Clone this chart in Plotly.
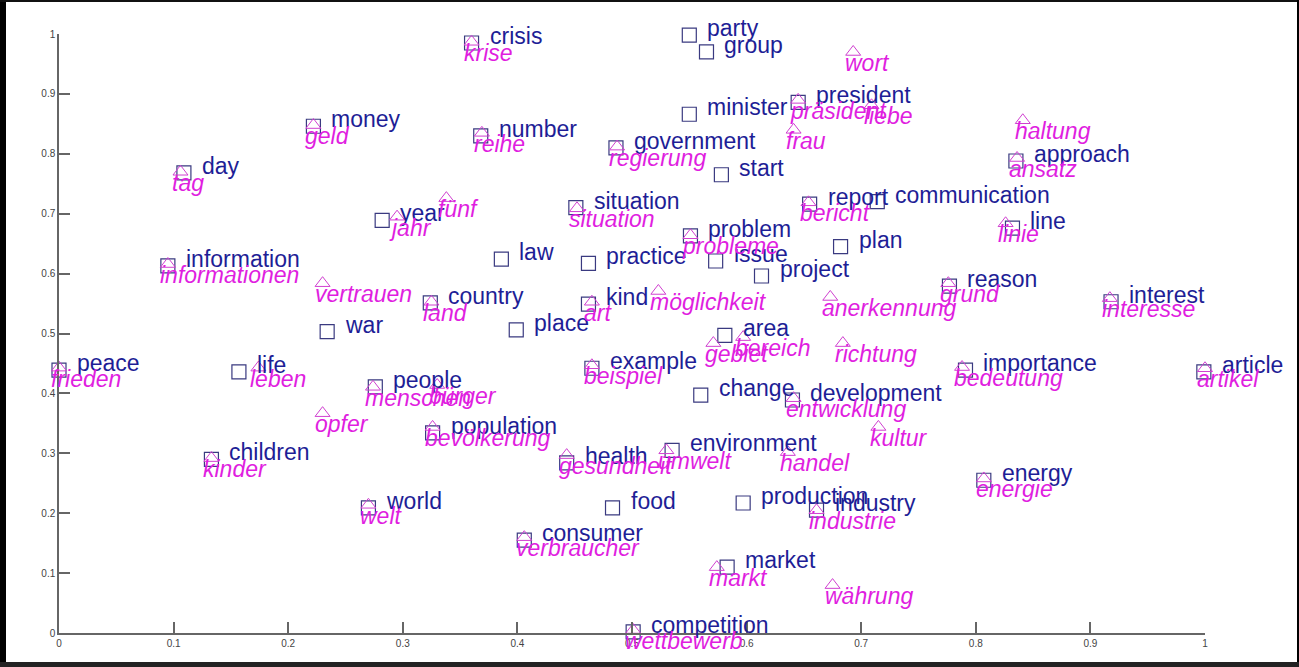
import plotly.graph_objects as go

# English words (blue squares)
en_words = ["peace", "life", "war", "children", "world", "people", "day", "money",
            "information", "year", "country", "law", "place", "crisis", "party", "group",
            "minister", "president", "number", "government", "start", "situation",
            "problem", "issue", "project", "practice", "kind", "plan", "report",
            "communication", "approach", "line", "reason", "interest", "importance",
            "article", "energy", "industry", "production", "area", "example", "change",
            "development", "population", "health", "environment", "food", "consumer",
            "market", "competition"]
en_x = [0.000, 0.157, 0.234, 0.133, 0.270, 0.276, 0.109, 0.222,
        0.095, 0.282, 0.324, 0.386, 0.399, 0.360, 0.550, 0.565,
        0.550, 0.645, 0.368, 0.486, 0.578, 0.451,
        0.551, 0.573, 0.613, 0.462, 0.462, 0.682, 0.655,
        0.714, 0.835, 0.832, 0.777, 0.918, 0.791,
        0.999, 0.807, 0.661, 0.597, 0.581, 0.465, 0.560,
        0.640, 0.326, 0.443, 0.535, 0.483, 0.406,
        0.583, 0.501]
en_y = [0.439, 0.436, 0.503, 0.290, 0.209, 0.411, 0.768, 0.846,
        0.613, 0.689, 0.551, 0.624, 0.506, 0.985, 0.998, 0.970,
        0.866, 0.886, 0.830, 0.810, 0.765, 0.710,
        0.663, 0.621, 0.596, 0.617, 0.549, 0.645, 0.716,
        0.720, 0.788, 0.676, 0.579, 0.553, 0.439,
        0.436, 0.255, 0.205, 0.217, 0.497, 0.442, 0.397,
        0.389, 0.334, 0.284, 0.305, 0.209, 0.155,
        0.110, 0.002]

# German words (magenta triangles)
de_words = ["frieden", "leben", "opfer", "menschen", "bürger", "kinder", "welt",
            "bevölkerung", "tag", "geld", "informationen", "vertrauen", "jahr", "fünf",
            "land", "krise", "reihe", "regierung", "situation", "art", "möglichkeit",
            "probleme", "bericht", "präsident", "frau", "wort", "liebe", "haltung",
            "ansatz", "linie", "grund", "interesse", "anerkennung", "gebiet", "bereich",
            "richtung", "beispiel", "entwicklung", "bedeutung", "artikel", "kultur",
            "energie", "industrie", "handel", "umwelt", "gesundheit", "verbraucher",
            "markt", "währung", "wettbewerb"]
de_x = [0.000, 0.174, 0.230, 0.274, 0.330, 0.133, 0.270,
        0.326, 0.106, 0.222, 0.095, 0.230, 0.295, 0.338,
        0.325, 0.360, 0.369, 0.487, 0.452, 0.465, 0.523,
        0.551, 0.654, 0.645, 0.641, 0.693, 0.709, 0.841,
        0.836, 0.826, 0.776, 0.917, 0.673, 0.571, 0.597,
        0.684, 0.465, 0.641, 0.788, 1.000, 0.715,
        0.807, 0.661, 0.636, 0.530, 0.443, 0.406,
        0.574, 0.675, 0.501]
de_y = [0.443, 0.443, 0.367, 0.411, 0.414, 0.292, 0.214,
        0.344, 0.770, 0.848, 0.616, 0.584, 0.695, 0.726,
        0.553, 0.987, 0.835, 0.812, 0.709, 0.553, 0.571,
        0.664, 0.719, 0.890, 0.840, 0.970, 0.881, 0.856,
        0.793, 0.684, 0.584, 0.559, 0.561, 0.484, 0.494,
        0.484, 0.447, 0.392, 0.444, 0.442, 0.344,
        0.258, 0.205, 0.302, 0.305, 0.297, 0.160,
        0.110, 0.080, 0.005]

tick_vals = [0, 0.1, 0.2, 0.3, 0.4, 0.5, 0.6, 0.7, 0.8, 0.9, 1]
tick_text = ["0", "0.1", "0.2", "0.3", "0.4", "0.5", "0.6", "0.7", "0.8", "0.9", "1"]

EN_COLOR = "#1e1e96"
DE_COLOR = "#e01ee0"
FONT = "Liberation Sans, Arial, sans-serif"

fig = go.Figure()
fig.add_trace(go.Scatter(
    x=en_x, y=en_y, mode="markers", cliponaxis=False, hoverinfo="skip",
    marker=dict(symbol="square-open", size=14, color="#3a3a80",
                line=dict(width=1.2, color="#3a3a80")),
    showlegend=False))
fig.add_trace(go.Scatter(
    x=de_x, y=de_y, mode="markers", cliponaxis=False, hoverinfo="skip",
    marker=dict(symbol="triangle-up-open", size=13, color="#d040d0",
                line=dict(width=1, color="#d040d0")),
    showlegend=False))

for w, x, y in zip(en_words, en_x, en_y):
    fig.add_annotation(x=x, y=y, text=w, showarrow=False, xanchor="left",
                       yanchor="middle", xshift=16, yshift=7,
                       font=dict(family=FONT, size=23, color=EN_COLOR))
for w, x, y in zip(de_words, de_x, de_y):
    fig.add_annotation(x=x, y=y, text="<i>" + w + "</i>", showarrow=False,
                       xanchor="left", yanchor="middle", xshift=-10, yshift=-11,
                       font=dict(family=FONT, size=23, color=DE_COLOR))

L, R, T, B = 59, 94, 34, 34
PW, PH = 1299 - L - R, 667 - T - B


def px(xp):
    return (xp - L) / PW


def py(yp):
    return (667 - B - yp) / PH


borders = [
    (0, 0, 6, 667, "#000000"),
    (0, 0, 1299, 2, "#111111"),
    (1297, 0, 1299, 667, "#000000"),
    (0, 662, 1299, 667, "#222222"),
]
for x0, y0, x1, y1, c in borders:
    fig.add_shape(type="rect", xref="paper", yref="paper",
                  x0=px(x0), x1=px(x1), y0=py(y1), y1=py(y0),
                  fillcolor=c, line=dict(width=0), layer="above")

axis_common = dict(
    range=[0, 1], tickmode="array", tickvals=tick_vals, ticktext=tick_text,
    ticks="inside", ticklen=11, tickwidth=1.5, tickcolor="#666666",
    showline=True, linecolor="#666666", linewidth=1.5, showgrid=False,
    zeroline=False, tickfont=dict(family=FONT, size=10, color="#444444"),
    fixedrange=True,
)
fig.update_xaxes(**axis_common)
fig.update_yaxes(**axis_common)

fig.update_layout(
    width=1299, height=667,
    margin=dict(l=L, r=R, t=T, b=B, pad=0),
    paper_bgcolor="white", plot_bgcolor="white",
    showlegend=False,
)

fig.write_html("out.html", config={"displayModeBar": False},
               post_script="document.body.style.margin='0';")
